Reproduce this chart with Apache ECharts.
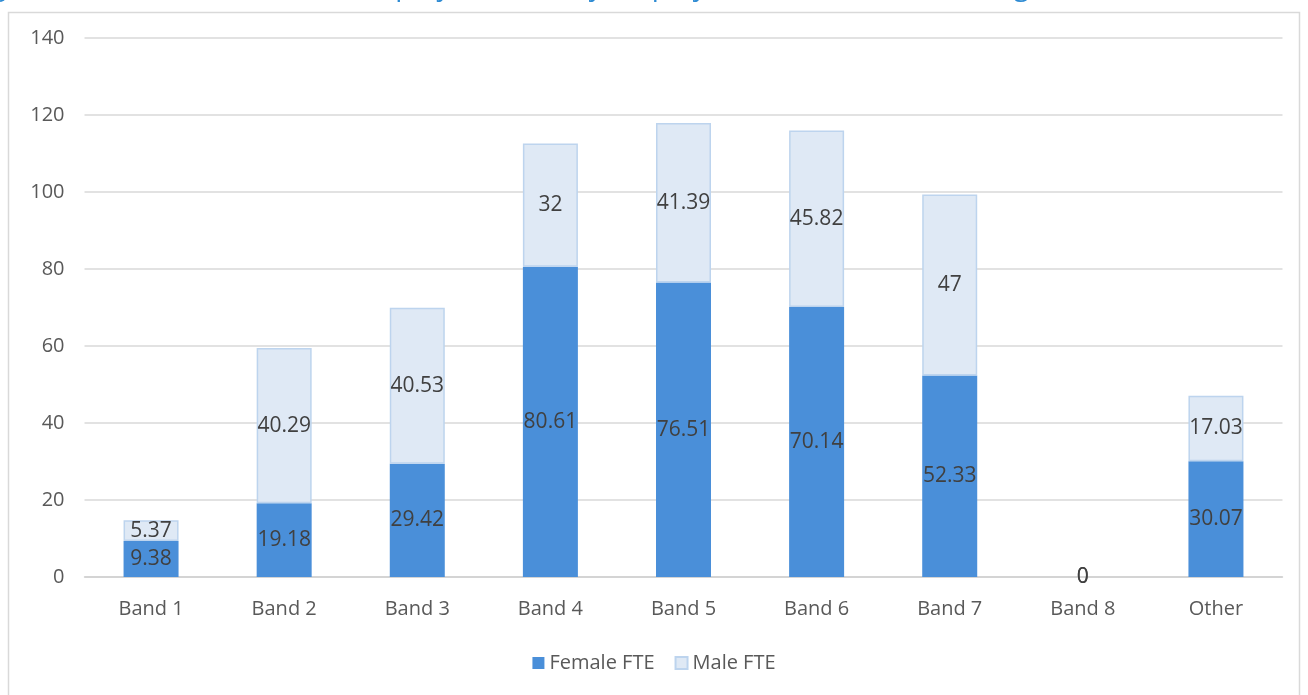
<!DOCTYPE html>
<html>
<head>
<meta charset="utf-8">
<script src="https://cdn.jsdelivr.net/npm/echarts@6/dist/echarts.min.js"></script>
<style>
  html, body { margin: 0; padding: 0; background: #ffffff; }
  #chart { width: 1308px; height: 695px; }
</style>
</head>
<body>
<div id="chart"></div>
<script>
// Employees (FTE) by band, split by gender
const categories = ['Band 1', 'Band 2', 'Band 3', 'Band 4', 'Band 5', 'Band 6', 'Band 7', 'Band 8', 'Other'];
const femaleFTE = [9.38, 19.18, 29.42, 80.61, 76.51, 70.14, 52.33, 0, 30.07];
const maleFTE = [5.37, 40.29, 40.53, 32, 41.39, 45.82, 47, 0, 17.03];
const yTicks = [0, 20, 40, 60, 80, 100, 120, 140];
const titleText = 'Figure 11: Number of council employees (FTE) by employment classification and gender';

const FONT = '"Open Sans", "Noto Sans", sans-serif';
const chart = echarts.init(document.getElementById('chart'), null, { renderer: 'canvas' });

const labelStyle = {
  show: true,
  position: 'inside',
  color: '#404040',
  fontFamily: FONT,
  fontSize: 21,
  formatter: p => String(p.value)
};

// empty segments get no outline
const maleItems = maleFTE.map(v => v > 0 ? v : { value: v, itemStyle: { borderWidth: 0 } });

chart.setOption({
  animation: false,
  backgroundColor: '#ffffff',
  graphic: [
    {
      type: 'rect',
      shape: { x: 8.5, y: 12.5, width: 1291, height: 690 },
      style: { fill: 'none', stroke: '#d9d9d9', lineWidth: 1.5 },
      silent: true
    },
    {
      type: 'text',
      left: -30,
      top: -27,
      style: {
        text: titleText,
        fill: '#2E8BD3',
        fontFamily: FONT,
        fontSize: 28
      },
      silent: true
    }
  ],
  legend: {
    bottom: 17,
    left: 'center',
    itemWidth: 12,
    itemHeight: 12,
    itemGap: 20,
    textStyle: { color: '#595959', fontFamily: FONT, fontSize: 20 },
    data: [
      { name: 'Female FTE', icon: 'rect' },
      { name: 'Male FTE', icon: 'rect' }
    ]
  },
  grid: { left: 84.5, right: 25.5, top: 38, bottom: 118, containLabel: false },
  xAxis: {
    type: 'category',
    data: categories,
    axisLine: { show: true, lineStyle: { color: '#d0d0d0', width: 1.5 } },
    axisTick: { show: false },
    axisLabel: { color: '#595959', fontFamily: FONT, fontSize: 20, margin: 22 }
  },
  yAxis: {
    type: 'value',
    min: yTicks[0],
    max: yTicks[yTicks.length - 1],
    interval: yTicks[1] - yTicks[0],
    axisLine: { show: false },
    axisTick: { show: false },
    axisLabel: { color: '#595959', fontFamily: FONT, fontSize: 20, margin: 20 },
    splitLine: { lineStyle: { color: '#d9d9d9', width: 1.5 } }
  },
  series: [
    {
      name: 'Female FTE',
      type: 'bar',
      stack: 'fte',
      barWidth: 55,
      data: femaleFTE,
      itemStyle: { color: '#4A8FD9' },
      label: labelStyle
    },
    {
      name: 'Male FTE',
      type: 'bar',
      stack: 'fte',
      barWidth: 55,
      data: maleItems,
      itemStyle: { color: '#DFE9F5', borderColor: '#BDD4EE', borderWidth: 1.5 },
      label: labelStyle
    }
  ]
});
</script>
</body>
</html>
